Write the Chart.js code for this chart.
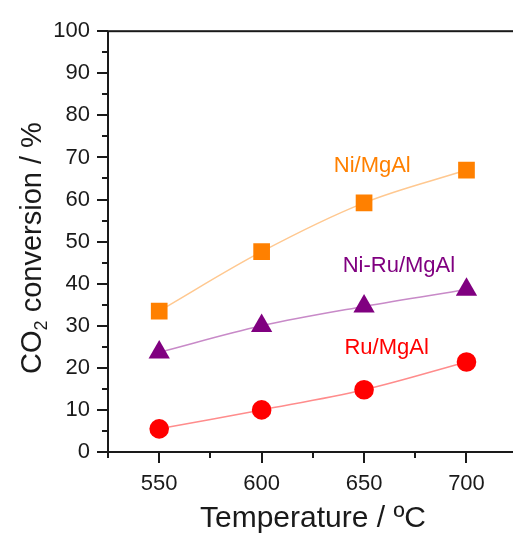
<!DOCTYPE html>
<html>
<head>
<meta charset="utf-8">
<title>CO2 conversion vs temperature</title>
<script src="https://cdn.jsdelivr.net/npm/chart.js@4.4.1/dist/chart.umd.min.js"></script>
<style>
  html, body { margin: 0; padding: 0; background: #fff; overflow: hidden; }
  #wrap { width: 530px; height: 541px; position: relative; }
</style>
</head>
<body>
<div id="wrap"><canvas id="conv-chart"></canvas></div>
<script>
  'use strict'

  // Data
  var temperatures = [550, 600, 650, 700]
  var niMgAl = [33.5, 47.6, 59.2, 67.0]
  var niRuMgAl = [23.7, 30.0, 34.6, 38.6]
  var ruMgAl = [5.5, 10.0, 14.8, 21.4]
  var seriesNames = ['Ni/MgAl', 'Ni-Ru/MgAl', 'Ru/MgAl']
  var xTicks = [550, 600, 650, 700]
  var yTicks = [0, 10, 20, 30, 40, 50, 60, 70, 80, 90, 100]

  var FONT = '"Liberation Sans", Arial, sans-serif'
  var INK = '#1a1a1a'

  function toPoints(values) {
    return values.map(function (v, i) { return { x: temperatures[i], y: v } })
  }

  // label anchors in data units (x, y) for the series names
  var labelSpots = [
    { x: 654, y: 68, color: '#ff8000' },
    { x: 667, y: 44.3, color: '#800080' },
    { x: 661, y: 24.8, color: '#ff0000' }
  ]

  // frame, minor/major tick marks, axis titles and series labels
  var decorPlugin = {
    id: 'decor',
    afterDraw: function (chart) {
      var ctx = chart.ctx
      var area = chart.chartArea
      var xs = chart.scales.x
      var ys = chart.scales.y
      ctx.save()
      ctx.strokeStyle = INK
      ctx.lineWidth = 2
      ctx.strokeRect(area.left, area.top, area.right - area.left, area.bottom - area.top)

      ctx.lineWidth = 2
      ctx.beginPath()
      for (var v = 0; v <= 100; v += 5) {
        var py = Math.round(ys.getPixelForValue(v))
        var len = v % 10 === 0 ? 11 : 6
        ctx.moveTo(area.left - len, py)
        ctx.lineTo(area.left, py)
      }
      for (var t = 525; t <= 725; t += 25) {
        var px = Math.round(xs.getPixelForValue(t))
        var lx = t % 50 === 0 ? 11 : 6
        ctx.moveTo(px, area.bottom)
        ctx.lineTo(px, area.bottom + lx)
      }
      ctx.stroke()

      // x axis title
      ctx.fillStyle = INK
      ctx.font = '30px ' + FONT
      ctx.textAlign = 'center'
      ctx.textBaseline = 'middle'
      ctx.fillText('Temperature / \u00baC', 313, 519)

      // y axis title with subscript
      ctx.save()
      ctx.translate(41, 248)
      ctx.rotate(-Math.PI / 2)
      ctx.textAlign = 'left'
      ctx.textBaseline = 'alphabetic'
      var big = '29px ' + FONT
      var small = '18px ' + FONT
      ctx.font = big
      var w1 = ctx.measureText('CO').width
      var w3 = ctx.measureText(' conversion / %').width
      ctx.font = small
      var w2 = ctx.measureText('2').width
      var x0 = -(w1 + w2 + w3) / 2
      ctx.font = big
      ctx.fillText('CO', x0, 0)
      ctx.font = small
      ctx.fillText('2', x0 + w1, 6)
      ctx.font = big
      ctx.fillText(' conversion / %', x0 + w1 + w2, 0)
      ctx.restore()

      // series names
      ctx.font = '22px ' + FONT
      ctx.textAlign = 'center'
      ctx.textBaseline = 'middle'
      labelSpots.forEach(function (s, i) {
        ctx.fillStyle = s.color
        ctx.fillText(seriesNames[i], xs.getPixelForValue(s.x), ys.getPixelForValue(s.y))
      })
      ctx.restore()
    }
  }

  var convCanvas = document.getElementById('conv-chart').getContext('2d')

  var convChart = new Chart(convCanvas, {
    type: 'line',
    data: {
      datasets: [
        {
          label: seriesNames[0],
          data: toPoints(niMgAl),
          borderColor: '#ffc890',
          borderWidth: 1.5,
          backgroundColor: '#ff8000',
          pointBackgroundColor: '#ff8000',
          pointBorderColor: '#ff8000',
          pointStyle: 'rect',
          pointRadius: 11.8,
          pointBorderWidth: 0,
          tension: 0.35
        },
        {
          label: seriesNames[1],
          data: toPoints(niRuMgAl),
          borderColor: '#c88ac8',
          borderWidth: 1.5,
          backgroundColor: '#800080',
          pointBackgroundColor: '#800080',
          pointBorderColor: '#800080',
          pointStyle: 'triangle',
          pointRadius: 12.3,
          pointBorderWidth: 0,
          tension: 0.35
        },
        {
          label: seriesNames[2],
          data: toPoints(ruMgAl),
          borderColor: '#ff8c8c',
          borderWidth: 1.5,
          backgroundColor: '#ff0000',
          pointBackgroundColor: '#ff0000',
          pointBorderColor: '#ff0000',
          pointStyle: 'circle',
          pointRadius: 9.8,
          pointBorderWidth: 0,
          tension: 0.35
        }
      ]
    },
    options: {
      responsive: true,
      maintainAspectRatio: false,
      animation: false,
      layout: { padding: { top: 25, left: 0, right: 0, bottom: 0 } },
      plugins: {
        legend: { display: false },
        tooltip: { enabled: false }
      },
      scales: {
        x: {
          type: 'linear',
          min: 525,
          max: 725,
          afterFit: function (scale) { scale.height = 89 },
          afterBuildTicks: function (scale) {
            scale.ticks = xTicks.map(function (v) { return { value: v } })
          },
          grid: { display: false, drawTicks: false },
          border: { display: false },
          ticks: {
            padding: 19,
            color: INK,
            font: { family: FONT, size: 22 },
            maxRotation: 0
          }
        },
        y: {
          min: 0,
          max: 100,
          afterFit: function (scale) { scale.width = 108 },
          afterBuildTicks: function (scale) {
            scale.ticks = yTicks.map(function (v) { return { value: v } })
          },
          grid: { display: false, drawTicks: false },
          border: { display: false },
          ticks: {
            padding: 18,
            color: INK,
            font: { family: FONT, size: 22 }
          }
        }
      }
    },
    plugins: [decorPlugin]
  })
</script>
</body>
</html>
